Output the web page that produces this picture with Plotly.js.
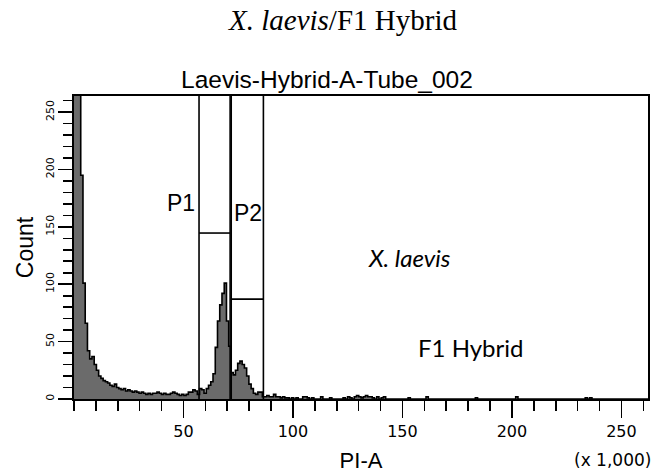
<!DOCTYPE html>
<html>
<head>
<meta charset="utf-8">
<script src="https://cdn.plot.ly/plotly-3.0.1.min.js"></script>
<style>html,body{margin:0;padding:0;background:#fff;}#chart{width:654px;height:473px;}</style>
</head>
<body>
<div id="chart"></div>
<script>
// PI-A histogram (x 1,000), 256 channels over 0..262.144
var binWidth = 262.144 / 256;
var counts = [
  420,380,290,195,101,66,42,35,37,30,25,20,18,16,15,14,
  12,11,13,10,9,8,9,7,8,7,6,7,6,5,6,5,
  4,5,4,5,5,6,5,4,5,4,4,5,6,5,4,3,
  4,3,4,6,6,8,7,4,9,8,5,9,12,15,22,45,
  68,82,92,101,68,46,23,21,25,31,33,30,27,20,13,9,
  5,4,6,6,2,2,3,2,2,4,2,2,1,2,1,1,
  0,1,0,1,0,0,2,2,1,0,1,0,0,0,2,0,
  0,0,1,0,0,0,0,0,1,0,2,1,0,2,3,2,
  1,2,3,2,2,1,0,2,0,1,2,0,0,0,0,0,
  0,0,0,0,0,1,0,0,0,0,0,0,0,2,0,0,
  0,0,0,0,0,0,0,0,0,0,0,0,0,0,0,0,
  0,0,0,1,0,0,0,0,0,0,0,0,0,0,0,0,
  0,0,0,0,0,2,0,0,0,0,0,0,0,0,0,0,
  0,0,0,0,0,0,0,0,0,0,0,0,0,0,0,0,
  0,0,0,0,1,0,1,0,0,0,0,0,0,0,0,0,
  0,0,0,0,0,0,0,0,0,0,0,0,0,0,0,0
];
// Gates
var gateNames = ['P1', 'P2'];
var gateLow   = [57.1, 71.8];
var gateHigh  = [71.3, 86.5];
var gateLevel = [144.6, 87];
// Tick labels
var xTickVals = [50, 100, 150, 200, 250];
var xTickText = ['50', '100', '150', '200', '250'];
var yTickVals = [0, 50, 100, 150, 200, 250];
var yTickText = ['0', '50', '100', '150', '200', '250'];

var edges = [], ys = [];
for (var i = 0; i < counts.length; i++) { edges.push(i * binWidth); ys.push(counts[i]); }
edges.push(counts.length * binWidth); ys.push(counts[counts.length - 1]);

var trace = {
  type: 'scatter', mode: 'lines', x: edges, y: ys,
  line: {shape: 'hv', color: '#000', width: 1.6},
  fill: 'tozeroy', fillcolor: '#6b6b6b', hoverinfo: 'skip'
};

var shapes = [];
for (var g = 0; g < gateNames.length; g++) {
  var ln = {color: '#000', width: 1.6};
  shapes.push({type: 'line', xref: 'x', yref: 'paper', x0: gateLow[g], x1: gateLow[g], y0: 0, y1: 1, line: ln});
  shapes.push({type: 'line', xref: 'x', yref: 'paper', x0: gateHigh[g], x1: gateHigh[g], y0: 0, y1: 1, line: ln});
  shapes.push({type: 'line', xref: 'x', yref: 'y', x0: gateLow[g], x1: gateHigh[g], y0: gateLevel[g], y1: gateLevel[g], line: ln});
}

var sans = 'Liberation Sans, Arial, sans-serif';
var annotations = [
  {xref: 'paper', yref: 'paper', x: 0.467, y: 1.251, xanchor: 'center', yanchor: 'middle', showarrow: false,
   text: '<i>X. laevis</i>/F1 Hybrid', font: {family: 'Liberation Serif, Times New Roman, serif', size: 29, color: '#000'}},
  {xref: 'paper', yref: 'paper', x: 0.4416, y: 1.053, xanchor: 'center', yanchor: 'middle', showarrow: false,
   text: 'Laevis-Hybrid-A-Tube_002', font: {family: sans, size: 24.5, color: '#000'}},
  {xref: 'x', yref: 'y', x: gateLow[0] - 0.8, y: 171, xanchor: 'right', yanchor: 'middle', showarrow: false,
   text: gateNames[0], font: {family: sans, size: 23, color: '#000'}},
  {xref: 'x', yref: 'y', x: gateLow[1] + 0.2, y: 162, xanchor: 'left', yanchor: 'middle', showarrow: false,
   text: gateNames[1], font: {family: sans, size: 23, color: '#000'}},
  {xref: 'x', yref: 'y', x: 153.3, y: 123, xanchor: 'center', yanchor: 'middle', showarrow: false,
   text: '<i>X. laevis</i>', font: {family: 'Lato, Open Sans, sans-serif', size: 24, color: '#000'}},
  {xref: 'x', yref: 'y', x: 181.1, y: 44.5, xanchor: 'center', yanchor: 'middle', showarrow: false,
   text: 'F1 Hybrid', font: {family: 'Lato, Open Sans, sans-serif', size: 24, color: '#000'}},
  {xref: 'paper', yref: 'paper', x: 0.938, y: -0.201, xanchor: 'center', yanchor: 'middle', showarrow: false,
   text: '(x 1,000)', font: {family: 'DejaVu Sans, sans-serif', size: 17, color: '#000'}}
];

var layout = {
  width: 654, height: 473,
  margin: {l: 74, r: 6, t: 96, b: 74, pad: 0},
  paper_bgcolor: '#fff', plot_bgcolor: '#fff',
  showlegend: false,
  xaxis: {
    range: [0, 262.144], showgrid: false, zeroline: false,
    showline: true, mirror: true, linecolor: '#000', linewidth: 1.6,
    tickmode: 'array', tickvals: xTickVals, ticktext: xTickText,
    ticks: 'outside', ticklen: 17, tickwidth: 1.6, tickcolor: '#000',
    minor: {tickmode: 'linear', tick0: 0, dtick: 10, ticks: 'outside', ticklen: 10, tickwidth: 1.6, tickcolor: '#000', showgrid: false},
    tickfont: {family: 'DejaVu Sans, sans-serif', size: 16, color: '#000'},
    title: {text: 'PI-A', font: {family: sans, size: 22, color: '#000'}, standoff: 13}
  },
  yaxis: {
    range: [0, 264], showgrid: false, zeroline: false,
    showline: true, mirror: true, linecolor: '#000', linewidth: 1.6,
    tickmode: 'array', tickvals: yTickVals, ticktext: yTickText, tickangle: -90,
    ticks: 'outside', ticklen: 14, tickwidth: 1.6, tickcolor: '#000',
    minor: {tickmode: 'linear', tick0: 0, dtick: 10, ticks: 'outside', ticklen: 9, tickwidth: 1.6, tickcolor: '#000', showgrid: false},
    tickfont: {family: 'DejaVu Sans, sans-serif', size: 11, color: '#000'},
    title: {text: 'Count', font: {family: sans, size: 23, color: '#000'}, standoff: 4}
  },
  shapes: shapes,
  annotations: annotations
};

Plotly.newPlot('chart', [trace], layout, {displayModeBar: false, staticPlot: true});
</script>
</body>
</html>
